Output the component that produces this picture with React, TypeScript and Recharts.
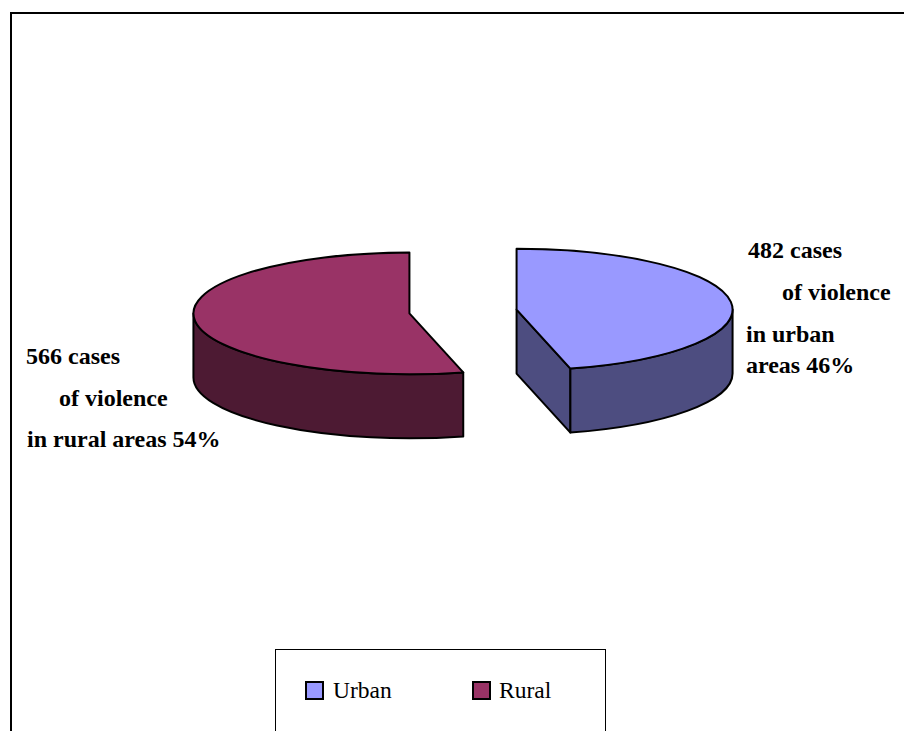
import { Legend, Pie, PieChart } from 'recharts'

const CATEGORIES = ['Urban', 'Rural']
const CASES = [482, 566]
const TOP_COLORS = ['#9999FF', '#993366']
const SIDE_COLORS = ['#4D4D80', '#4D1A33']
const LABEL_LINES = [
  ['482 cases', 'of violence', 'in urban', 'areas 46%'],
  ['566 cases', 'of violence', 'in rural areas 54%'],
]

const LABEL_SPOTS = [
  [
    [748, 258],
    [782, 300],
    [746, 342],
    [746, 373],
  ],
  [
    [26, 364],
    [59, 406],
    [27, 447],
  ],
]

const SERIF = '"Liberation Serif", "Times New Roman", serif'
const SQUASH = 0.282
const DEPTH = 64
const EXPLODE = 54

const tableData = CATEGORIES.map((name, i) => ({
  name,
  value: CASES[i],
  fill: TOP_COLORS[i],
  side: SIDE_COLORS[i],
}))

function Slice3D(props: any) {
  const { cx, cy, outerRadius: r, startAngle, endAngle, midAngle, fill, payload } = props
  const rad = (deg: number) => (deg * Math.PI) / 180
  const ry = r * SQUASH
  const mid = midAngle ?? (startAngle + endAngle) / 2
  const ox = cx + EXPLODE * Math.cos(rad(mid))
  const oy = cy - EXPLODE * Math.sin(rad(mid)) * SQUASH
  const at = (deg: number, drop = 0) =>
    `${ox + r * Math.cos(rad(deg))} ${oy - ry * Math.sin(rad(deg)) + drop}`
  const large = startAngle - endAngle > 180 ? 1 : 0

  // the part of the rim that faces the viewer
  const rimFrom = Math.min(startAngle, 0)
  const rimTo = Math.max(endAngle, -180)
  const rim =
    `M ${at(rimFrom)} A ${r} ${ry} 0 0 1 ${at(rimTo)} L ${at(rimTo, DEPTH)} ` +
    `A ${r} ${ry} 0 0 0 ${at(rimFrom, DEPTH)} Z`

  // cut face, only shown on the slice whose end edge points at the viewer
  const showCut = payload?.name === 'Urban' || props.name === 'Urban'
  const cut = `M ${ox} ${oy} L ${at(endAngle)} L ${at(endAngle, DEPTH)} L ${ox} ${oy + DEPTH} Z`

  const top = `M ${ox} ${oy} L ${at(startAngle)} A ${r} ${ry} 0 ${large} 1 ${at(endAngle)} Z`
  const side = payload?.side ?? props.side

  return (
    <g stroke="#000" strokeWidth={2} strokeLinejoin="round">
      {showCut && <path d={cut} fill={side} />}
      <path d={rim} fill={side} />
      <path d={top} fill={fill} />
    </g>
  )
}

function renderLabel(props: any) {
  const lines = LABEL_LINES[props.index]
  const spots = LABEL_SPOTS[props.index]
  return (
    <g key={props.index}>
      {lines.map((line, i) => (
        <text
          key={line}
          x={spots[i][0]}
          y={spots[i][1]}
          fill="#000"
          fontFamily={SERIF}
          fontSize={24}
          fontWeight={700}
          textAnchor="start"
        >
          {line}
        </text>
      ))}
    </g>
  )
}

function LegendBox({ payload }: any) {
  return (
    <div style={{ position: 'relative', width: '100%', height: '100%' }}>
      {(payload ?? []).map((entry: any, i: number) => (
        <div key={entry.value}>
          <div
            style={{
              position: 'absolute',
              left: i === 0 ? 29 : 196,
              top: 31,
              width: 15,
              height: 15,
              background: entry.color,
              border: '2px solid #000',
            }}
          />
          <div
            style={{
              position: 'absolute',
              left: i === 0 ? 57 : 223,
              top: 27,
              fontFamily: SERIF,
              fontSize: 23.5,
              lineHeight: '26px',
              color: '#000',
            }}
          >
            {entry.value}
          </div>
        </div>
      ))}
    </div>
  )
}

export default function App() {
  return (
    <div style={{ position: 'absolute', left: 0, top: 0, width: 904, height: 731, overflow: 'hidden', background: '#fff' }}>
      <div
        style={{
          position: 'absolute',
          left: 10,
          top: 12,
          width: 894,
          height: 719,
          borderTop: '2px solid #000',
          borderLeft: '2px solid #000',
          boxSizing: 'border-box',
        }}
      />
      <div style={{ position: 'absolute', left: 0, top: 0 }}>
        <PieChart width={904} height={731} margin={{ top: 0, right: 0, bottom: 0, left: 0 }}>
          <Pie
            data={tableData}
            dataKey="value"
            nameKey="name"
            cx={463}
            cy={311.5}
            outerRadius={216}
            startAngle={90}
            endAngle={-270}
            shape={Slice3D}
            label={renderLabel}
            labelLine={false}
            isAnimationActive={false}
          />
          <Legend
            content={LegendBox}
            itemSorter={null}
            wrapperStyle={{
              position: 'absolute',
              left: 275,
              top: 649,
              width: 331,
              height: 90,
              border: '1px solid #000',
              boxSizing: 'border-box',
              background: '#fff',
            }}
          />
        </PieChart>
      </div>
    </div>
  )
}
